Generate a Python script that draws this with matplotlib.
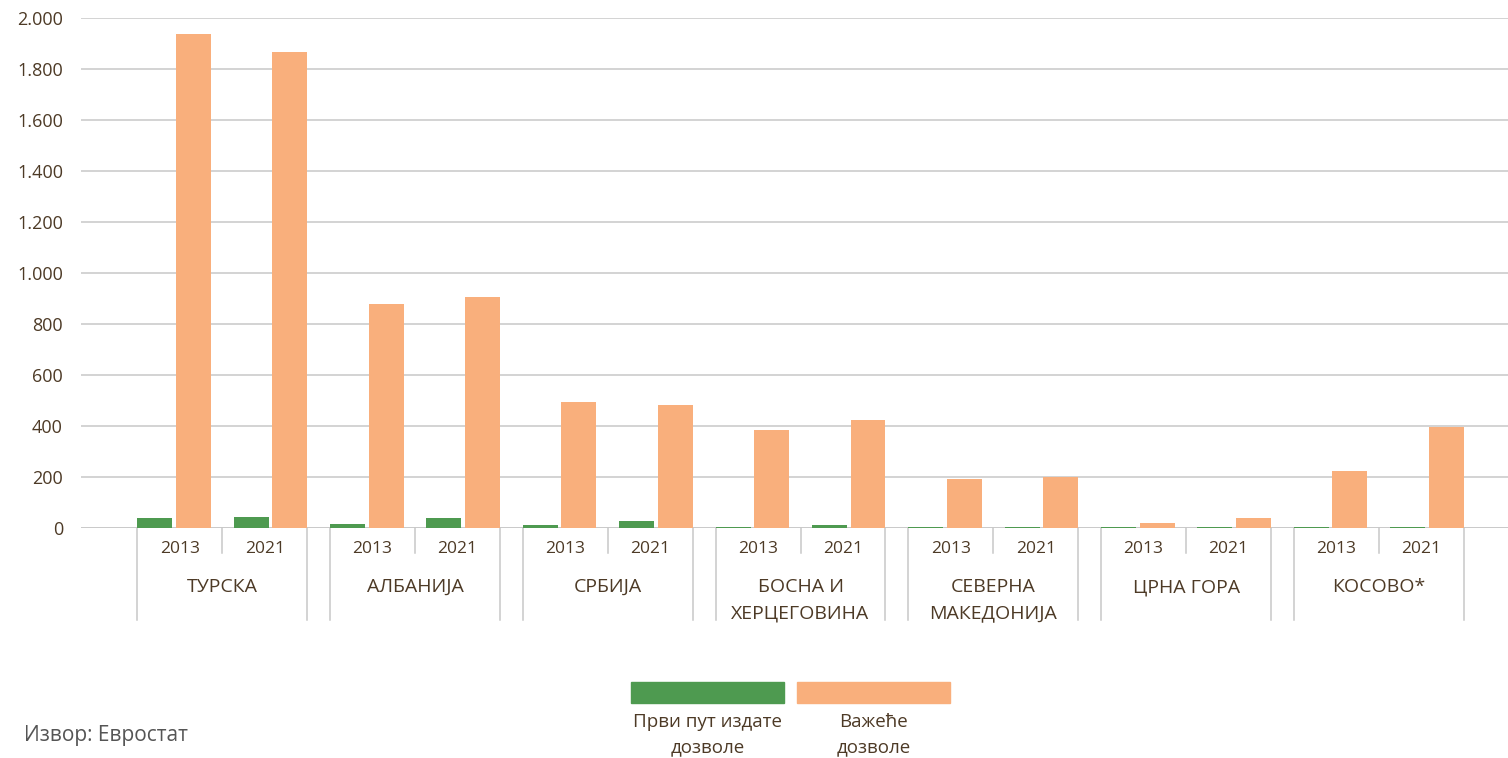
import matplotlib.pyplot as plt
import numpy as np
from matplotlib.patches import Rectangle
from matplotlib.ticker import FuncFormatter, MultipleLocator
import matplotlib.transforms as mtransforms

plt.rcParams['font.family'] = ['Open Sans', 'DejaVu Sans']

countries = [["ТУРСКА"], ["АЛБАНИЈА"], ["СРБИЈА"], ["БОСНА И", "ХЕРЦЕГОВИНА"],
             ["СЕВЕРНА", "МАКЕДОНИЈА"], ["ЦРНА ГОРА"], ["КОСОВО*"]]
years = ["2013", "2021"]

# values per (country, year), in order 2013, 2021
first_issued = [39, 43, 16, 39, 12, 27, 5, 12, 4, 4, 3, 3, 5, 5]
valid = [1937, 1867, 878, 906, 494, 482, 384, 424, 192, 200, 20, 39, 224, 396]

series_labels = [["Први пут издате", "дозволе"], ["Важеће", "дозволе"]]
green = "#4e9a50"
orange = "#f9af7c"
brown = "#4d3a26"
grid_c = "#c8c8c8"

fig = plt.figure(figsize=(15.08, 7.58), dpi=100)
W, H = 1508, 758
ax = fig.add_axes([81 / W, 1 - 528 / H, 1 - 81 / W, 510 / H])

x = np.arange(len(valid))
bw = 0.363
ax.bar(x - 0.2, first_issued, bw, color=green, zorder=3)
ax.bar(x + 0.2, valid, bw, color=orange, zorder=3)

ax.set_ylim(0, 2000)
ax.set_xlim(-0.965, 13.84)
ax.yaxis.set_major_locator(MultipleLocator(200))
ax.yaxis.set_major_formatter(FuncFormatter(lambda v, p: f"{int(v):,}".replace(",", ".")))
ax.yaxis.grid(True, color=grid_c, lw=1.1, zorder=0)
ax.set_axisbelow(True)
for s in ax.spines.values():
    s.set_visible(False)
ax.axhline(0, color=grid_c, lw=1.1, zorder=2)
ax.tick_params(axis='y', length=0, pad=13, labelsize=13, labelcolor=brown)
ax.set_xticks([])

# multi-level category axis
tr = mtransforms.blended_transform_factory(ax.transData, ax.transAxes)
px = 1 / 510
edge = 0.2 + bw / 2
for k, name in enumerate(countries):
    left = 2 * k - edge
    right = 2 * k + 1 + edge
    mid = 2 * k + 0.5
    for xx in (left, right):
        ax.plot([xx, xx], [0, -92 * px], color=grid_c, lw=1.1, transform=tr, clip_on=False)
    ax.plot([mid, mid], [0, -25 * px], color=grid_c, lw=1.1, transform=tr, clip_on=False)
    ax.text((left + mid) / 2, -21 * px, years[0], transform=tr, ha='center', va='center',
            fontsize=12.5, color=brown)
    ax.text((mid + right) / 2, -21 * px, years[1], transform=tr, ha='center', va='center',
            fontsize=12.5, color=brown)
    for j, line in enumerate(name):
        ax.text(mid, (-59 - 26 * j) * px, line, transform=tr, ha='center', va='center',
                fontsize=14, color=brown)

# legend
for (x0, c), lab in zip([(631, green), (797, orange)], series_labels):
    fig.patches.append(Rectangle((x0 / W, 1 - 703 / H), 153 / W, 21 / H,
                                 transform=fig.transFigure, color=c))
    for j, line in enumerate(lab):
        fig.text((x0 + 76.5) / W, 1 - (722 + 25 * j) / H, line, ha='center', va='center',
                 fontsize=13.5, color=brown)

fig.text(24 / W, 1 - 736 / H, "Извор: Евростат", ha='left', va='center',
         fontsize=15, color="#555555")

fig.savefig("out.png", dpi=100)
